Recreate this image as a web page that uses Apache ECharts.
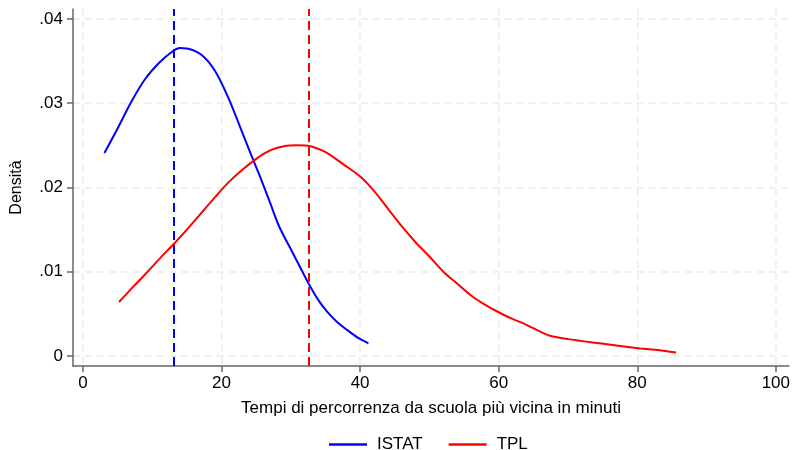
<!DOCTYPE html>
<html>
<head>
<meta charset="utf-8">
<script src="https://cdn.jsdelivr.net/npm/echarts@6/dist/echarts.min.js"></script>
<style>
html,body{margin:0;padding:0;background:#fff;}
#c{width:794px;height:450px;}
</style>
</head>
<body>
<div id="c"></div>
<script>
// ---- data ----
var seriesNames = ['ISTAT', 'TPL'];
var istatX = [3.1, 5, 7, 9, 11, 13, 14, 15, 17, 19, 21, 23, 24.6, 25.5, 27, 28.3, 30.3, 32.5, 34, 35.2, 36.6, 38.1, 39.6, 41.2];
var istatY = [0.0241, 0.0270, 0.0302, 0.0329, 0.0348, 0.0362, 0.03655, 0.0365, 0.0358, 0.0339, 0.0306, 0.0265, 0.0232, 0.0214, 0.0182, 0.0154, 0.0122, 0.0087, 0.0066, 0.0053, 0.0041, 0.0031, 0.0022, 0.0015];
var tplX = [5.2, 7, 9, 11, 13, 15, 17, 19, 21, 23, 25, 27, 29, 31, 32.8, 34.5, 35.6, 37.5, 40, 42, 44, 46, 48, 50, 52, 54, 56.3, 58, 60.2, 62, 64, 66, 67.4, 70, 74.6, 80.4, 83, 85.6];
var tplY = [0.0064, 0.0080, 0.0097, 0.0115, 0.0132, 0.0150, 0.0169, 0.0188, 0.0206, 0.0221, 0.0234, 0.0244, 0.0249, 0.0250, 0.0249, 0.0244, 0.0239, 0.0228, 0.0213, 0.0196, 0.0175, 0.0154, 0.0135, 0.0118, 0.0100, 0.0086, 0.0070, 0.0061, 0.0051, 0.0044, 0.0037, 0.0029, 0.0024, 0.0020, 0.0015, 0.0009, 0.0007, 0.0004];
var meanLines = [13.1, 32.6];
var xTicks = [0, 20, 40, 60, 80, 100];
var yTicks = [0, 0.01, 0.02, 0.03, 0.04];
var xTitle = 'Tempi di percorrenza da scuola più vicina in minuti';
var yTitle = 'Densità';

function pairs(xs, ys) { return xs.map(function (x, i) { return [x, ys[i]]; }); }
var FONT = 'Liberation Sans, Arial, sans-serif';
var colors = ['#0000ff', '#ff0000'];

var chart = echarts.init(document.getElementById('c'), null, {renderer: 'canvas'});
var gridLine = {show: true, lineStyle: {color: '#ebebeb', width: 1.5, type: [7, 5]}};
chart.setOption({
  animation: false,
  backgroundColor: '#fff',
  grid: {left: 73, right: 5, top: 9, bottom: 84, containLabel: false, outerBoundsMode: 'none'},
  legend: {
    left: 324, top: 431,
    icon: 'rect', itemWidth: 38, itemHeight: 2.5, itemGap: 26,
    textStyle: {fontFamily: FONT, fontSize: 17, color: '#000', padding: [0, 0, 0, 5]},
    data: seriesNames
  },
  xAxis: {
    type: 'value', min: -1.44, max: 101.9,
    name: xTitle, nameLocation: 'middle', nameGap: 34,
    nameTextStyle: {fontFamily: FONT, fontSize: 17, color: '#000'},
    axisLine: {show: true, onZero: false, lineStyle: {color: '#666', width: 1.5}},
    axisTick: {show: true, length: 6, customValues: xTicks, lineStyle: {color: '#666', width: 1.5}},
    axisLabel: {customValues: xTicks, margin: 9, fontFamily: FONT, fontSize: 17, color: '#000'},
    splitLine: gridLine
  },
  yAxis: {
    type: 'value', min: -0.00119, max: 0.04118,
    name: yTitle, nameLocation: 'middle', nameGap: 48, nameRotate: 90,
    nameTextStyle: {fontFamily: FONT, fontSize: 16, color: '#000'},
    axisLine: {show: true, onZero: false, lineStyle: {color: '#666', width: 1.5}},
    axisTick: {show: true, length: 6, customValues: yTicks, lineStyle: {color: '#666', width: 1.5}},
    axisLabel: {
      customValues: yTicks, margin: 10, fontFamily: FONT, fontSize: 17, color: '#000',
      formatter: function (v) { return v === 0 ? '0' : String(Math.round(v * 100) / 100).replace(/^0/, ''); }
    },
    splitLine: gridLine
  },
  series: [
    {
      name: seriesNames[0], type: 'line', data: pairs(istatX, istatY), smooth: 0.3,
      symbol: 'none', lineStyle: {color: colors[0], width: 2}, itemStyle: {color: colors[0]},
      z: 3,
      markLine: {
        silent: true, symbol: 'none', label: {show: false},
        lineStyle: {color: colors[0], width: 2, type: [9, 5]},
        data: [{xAxis: meanLines[0]}]
      }
    },
    {
      name: seriesNames[1], type: 'line', data: pairs(tplX, tplY), smooth: 0.3,
      symbol: 'none', lineStyle: {color: colors[1], width: 2}, itemStyle: {color: colors[1]},
      z: 3,
      markLine: {
        silent: true, symbol: 'none', label: {show: false},
        lineStyle: {color: colors[1], width: 2, type: [9, 5]},
        data: [{xAxis: meanLines[1]}]
      }
    }
  ]
});
</script>
</body>
</html>
